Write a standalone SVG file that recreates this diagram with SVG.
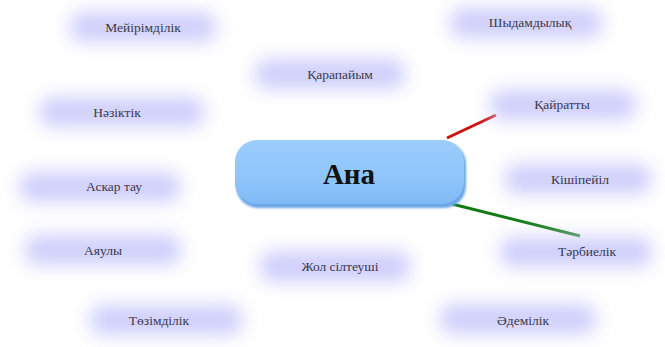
<svg xmlns="http://www.w3.org/2000/svg" width="665" height="347" viewBox="0 0 665 347">
<defs>
<filter id="blur" x="-40%" y="-80%" width="180%" height="260%"><feGaussianBlur stdDeviation="9"/></filter>
<filter id="soft" x="-10%" y="-20%" width="120%" height="140%"><feGaussianBlur stdDeviation="1.2"/></filter>
<linearGradient id="cg" x1="0" y1="0" x2="0" y2="1">
<stop offset="0" stop-color="#9ccdfd"/><stop offset="0.6" stop-color="#8ec5fb"/><stop offset="1" stop-color="#80b9f5"/>
</linearGradient>
<style>
.blob{fill:#cfcffc;filter:url(#blur)}
.lbl{font-size:13.5px;fill:#3a3a4c;text-anchor:middle;dominant-baseline:central}
</style>
</defs>
<rect width="665" height="347" fill="#ffffff"/>
<g id="connectors">
<line x1="447" y1="138" x2="496" y2="115" stroke="#cc1111" stroke-width="3"/>
<line x1="452" y1="204" x2="580" y2="236" stroke="#137a13" stroke-width="3"/>
</g>
<g font-family="Liberation Serif, serif">
<g id="n-meyirimdilik"><rect class="blob" x="70" y="12" width="146" height="30" rx="12"/><text class="lbl" x="143" y="27">Мейірімділік</text></g>
<g id="n-shydamdylyk"><rect class="blob" x="450" y="8" width="152" height="30" rx="12"/><text class="lbl" x="530" y="22">Шыдамдылық</text></g>
<g id="n-karapayym"><rect class="blob" x="255" y="59" width="150" height="30" rx="12"/><text class="lbl" x="340" y="74">Қарапайым</text></g>
<g id="n-naziktik"><rect class="blob" x="40" y="97" width="164" height="30" rx="12"/><text class="lbl" x="117" y="112">Нәзіктік</text></g>
<g id="n-kayratty"><rect class="blob" x="490" y="90" width="146" height="30" rx="12"/><text class="lbl" x="562" y="104">Қайратты</text></g>
<g id="n-askar"><rect class="blob" x="20" y="172" width="160" height="30" rx="12"/><text class="lbl" x="114" y="186">Аскар тау</text></g>
<g id="n-kishipeyil"><rect class="blob" x="505" y="164" width="146" height="30" rx="12"/><text class="lbl" x="580" y="179">Кішіпейіл</text></g>
<g id="n-ayauly"><rect class="blob" x="25" y="235" width="156" height="30" rx="12"/><text class="lbl" x="103" y="250">Аяулы</text></g>
<g id="n-zhol"><rect class="blob" x="260" y="251" width="150" height="31" rx="12"/><text class="lbl" x="340" y="266">Жол сілтеуші</text></g>
<g id="n-tarbielik"><rect class="blob" x="500" y="237" width="152" height="30" rx="12"/><text class="lbl" x="587" y="251">Тәрбиелік</text></g>
<g id="n-tozimdilik"><rect class="blob" x="90" y="305" width="152" height="30" rx="12"/><text class="lbl" x="159" y="320">Төзімділік</text></g>
<g id="n-ademilik"><rect class="blob" x="440" y="304" width="156" height="30" rx="12"/><text class="lbl" x="523" y="320">Әдемілік</text></g>
<g id="n-ana">
<rect x="236" y="142" width="230" height="66" rx="22" fill="#6aa6e8" filter="url(#soft)"/>
<rect x="235" y="140" width="229" height="64" rx="22" fill="url(#cg)"/>
<text x="349" y="174" font-size="29" font-weight="bold" fill="#111111" text-anchor="middle" dominant-baseline="central">Ана</text>
</g>
</g>
</svg>
